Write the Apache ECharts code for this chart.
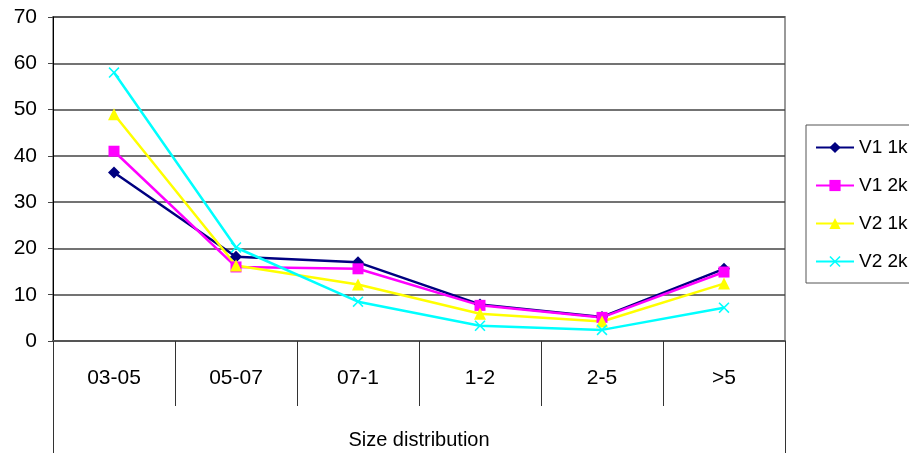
<!DOCTYPE html>
<html>
<head>
<meta charset="utf-8">
<script src="https://cdn.jsdelivr.net/npm/echarts@6/dist/echarts.min.js"></script>
<style>
  html, body { margin: 0; padding: 0; background: #fff; }
  #chart { width: 909px; height: 455px; }
</style>
</head>
<body>
<div id="chart"></div>
<script>
// Size classes on the category axis
const categories = ['03-05', '05-07', '07-1', '1-2', '2-5', '>5'];

// Percentages per size class for each run
const v1_1k = [36.4, 18.2, 17.0, 7.9, 5.2, 15.6];
const v1_2k = [41.0, 16.0, 15.6, 7.7, 5.1, 14.9];
const v2_1k = [49.0, 16.3, 12.2, 5.9, 4.2, 12.4];
const v2_2k = [58.0, 20.2, 8.5, 3.3, 2.4, 7.2];

const yTicks = { min: 0, max: 70, interval: 10 };

// Filled "x" glyph used for the last series
const crossSymbol = 'path://M0,1L1,0L5,4L9,0L10,1L6,5L10,9L9,10L5,6L1,10L0,9L4,5Z';

const font = 'Liberation Sans, Arial, sans-serif';

function lineSeries(name, data, color, symbol, size) {
  return {
    name: name,
    type: 'line',
    data: data,
    symbol: symbol,
    symbolSize: size,
    showAllSymbol: true,
    lineStyle: { color: color, width: 2.5 },
    itemStyle: { color: color },
    emphasis: { disabled: true },
    z: 5
  };
}

const chart = echarts.init(document.getElementById('chart'), null, { renderer: 'canvas' });

chart.setOption({
  animation: false,
  backgroundColor: '#fff',
  grid: {
    left: 53, right: 124, top: 17, bottom: 112,
    show: true, borderColor: '#999', borderWidth: 2, backgroundColor: 'transparent'
  },
  legend: {
    orient: 'vertical',
    left: 806, top: 125,
    padding: [13, 40, 12, 9],
    itemWidth: 38, itemHeight: 14, itemGap: 25 - 6,
    borderColor: '#555', borderWidth: 1,
    textStyle: { fontFamily: font, fontSize: 19, color: '#000' },
    data: ['V1 1k', 'V1 2k', 'V2 1k', 'V2 2k']
  },
  xAxis: [{
    type: 'category',
    data: categories,
    boundaryGap: true,
    axisLine: { show: true, lineStyle: { color: '#555', width: 2 } },
    axisTick: { show: true, interval: 0, length: 65, lineStyle: { color: '#333', width: 1 } },
    axisLabel: { interval: 0, margin: 27, fontFamily: font, fontSize: 21, color: '#000' },
    name: 'Size distribution',
    nameLocation: 'middle',
    nameGap: 89,
    nameTextStyle: { fontFamily: font, fontSize: 20, color: '#000' },
    splitLine: { show: false }
  }, {
    // Frame lines that close the category band down to the bottom edge
    type: 'category',
    data: [''],
    position: 'bottom',
    boundaryGap: true,
    axisLine: { show: false },
    axisTick: { show: true, length: 112, lineStyle: { color: '#333', width: 1 } },
    axisLabel: { show: false },
    splitLine: { show: false }
  }],
  yAxis: {
    type: 'value',
    min: yTicks.min, max: yTicks.max, interval: yTicks.interval,
    axisLine: { show: true, lineStyle: { color: '#000', width: 1 } },
    axisTick: { show: true, length: 5, lineStyle: { color: '#444' } },
    axisLabel: { margin: 16, fontFamily: font, fontSize: 21, color: '#000' },
    splitLine: { show: true, lineStyle: { color: '#444', width: 1.5 } }
  },
  series: [
    lineSeries('V1 1k', v1_1k, '#000080', 'diamond', 12),
    lineSeries('V1 2k', v1_2k, '#FF00FF', 'rect', 11),
    lineSeries('V2 1k', v2_1k, '#FFFF00', 'triangle', 12),
    lineSeries('V2 2k', v2_2k, '#00FFFF', crossSymbol, 11)
  ]
});
</script>
</body>
</html>
